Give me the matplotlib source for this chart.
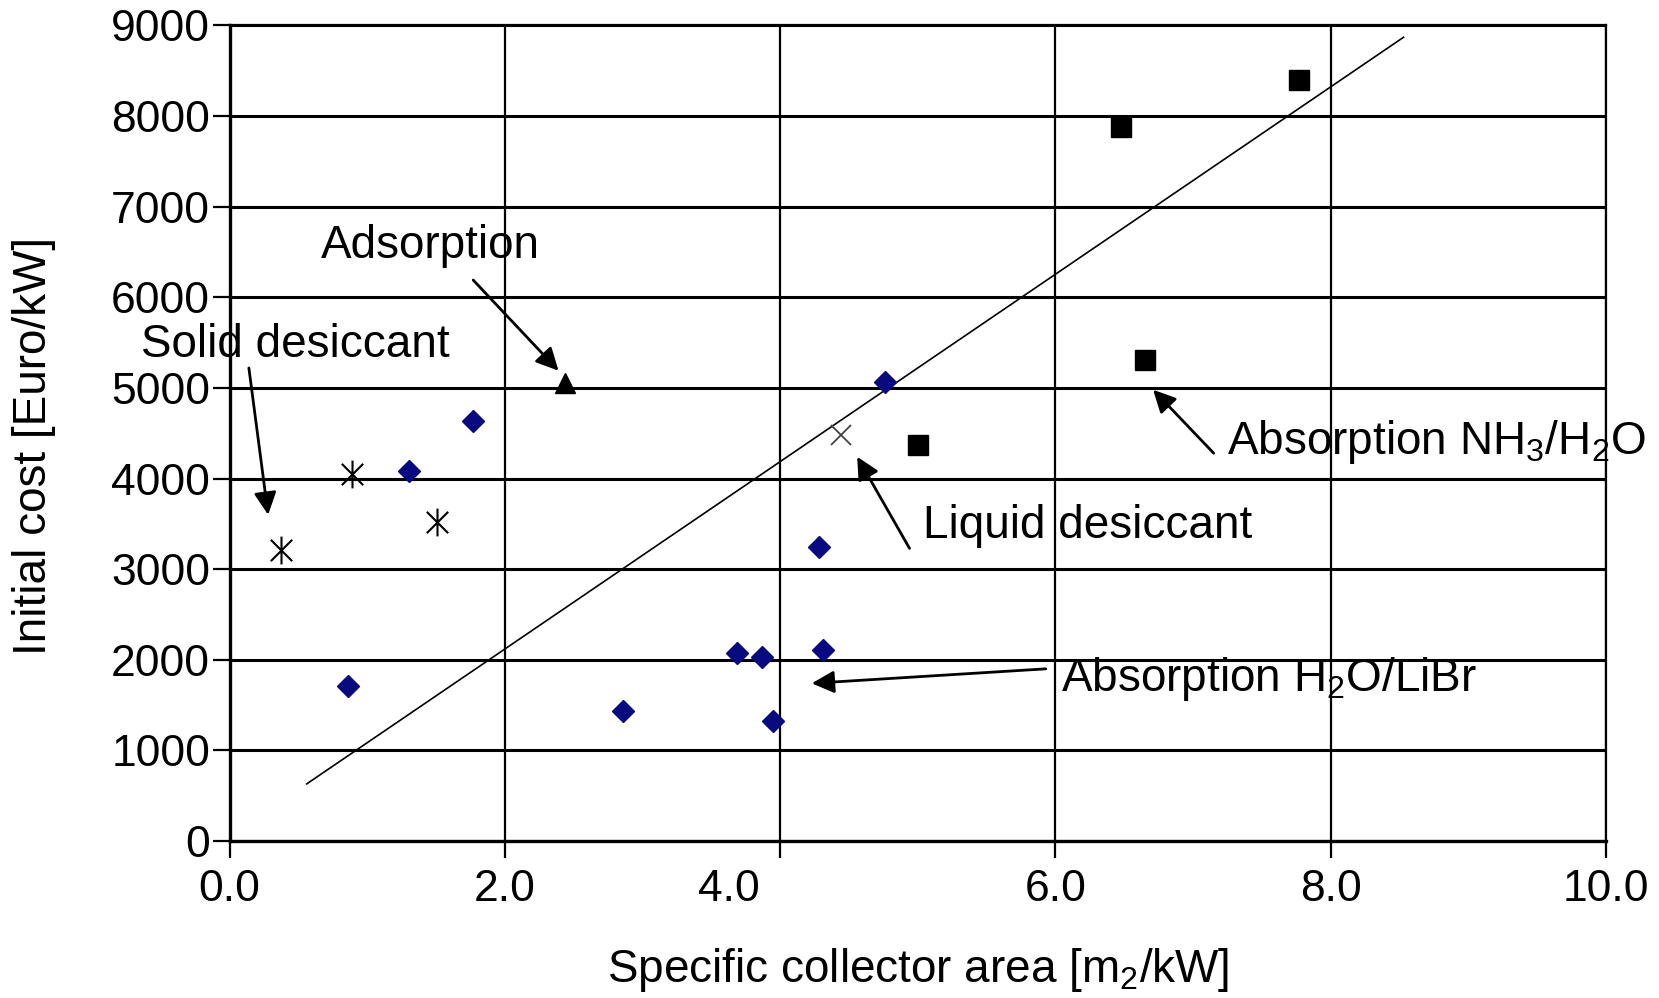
import matplotlib
matplotlib.use("Agg")
import matplotlib.pyplot as plt
from matplotlib.path import Path
from matplotlib.transforms import ScaledTranslation

plt.rcParams["font.family"] = ["Liberation Sans", "DejaVu Sans"]
plt.rcParams["mathtext.fontset"] = "custom"
plt.rcParams["mathtext.rm"] = "Liberation Sans"

# specific collector area [m2/kW] vs initial cost [Euro/kW]
libr_x = [1.77, 1.30, 0.86, 2.86, 3.69, 3.87, 3.95, 4.28, 4.31, 4.76]
libr_y = [4630, 4080, 1710, 1440, 2070, 2030, 1320, 3250, 2110, 5060]
nh3_x = [6.48, 7.77, 6.65, 5.00]
nh3_y = [7880, 8400, 5310, 4370]
solid_x = [0.37, 0.89, 1.51]
solid_y = [3210, 4050, 3520]
adsorp_x = [2.44]
adsorp_y = [5050]
liquid_x = [4.44]
liquid_y = [4480]
trend_x = [0.56, 8.53]
trend_y = [630, 8870]

xticks = [0, 2, 4, 6, 8, 10]
xtick_labels = ["0.0", "2.0", "4.0", "6.0", "8.0", "10.0"]
yticks = list(range(0, 9001, 1000))

# 6-armed asterisk: an X with a vertical bar
ast = Path([(-1, -1), (1, 1), (-1, 1), (1, -1), (0, -1.3), (0, 1.3)],
           [Path.MOVETO, Path.LINETO, Path.MOVETO, Path.LINETO, Path.MOVETO, Path.LINETO])

fig = plt.figure(figsize=(16.59, 9.98), dpi=100)
ax = fig.add_axes([0.1384, 0.1573, 0.8296, 0.8172])

ax.plot(trend_x, trend_y, color="black", lw=1.2, zorder=2)
ax.plot(libr_x, libr_y, ls="none", marker="D", ms=11, color="#0a0a80", zorder=3)
ax.plot(nh3_x, nh3_y, ls="none", marker="s", ms=14, color="black", zorder=3)
ax.plot(solid_x, solid_y, ls="none", marker=ast, ms=20, mec="black", mew=1.5, zorder=3)
ax.plot(adsorp_x, adsorp_y, ls="none", marker="^", ms=15, color="black", zorder=3)
ax.plot(liquid_x, liquid_y, ls="none", marker="x", ms=15, mec="#444444", mew=1.3, zorder=3)

ax.set_xlim(0, 10)
ax.set_ylim(0, 9000)
ax.set_xticks(xticks)
ax.set_xticklabels(xtick_labels)
ax.set_yticks(yticks)
ax.grid(axis="y", color="black", lw=2.2)
ax.grid(axis="x", color="black", lw=1.6)
ax.set_axisbelow(True)
for s in ax.spines.values():
    s.set_linewidth(1.6)
ax.spines["left"].set_linewidth(2.4)
ax.spines["bottom"].set_linewidth(2.4)
ax.tick_params(axis="both", direction="out", length=12, width=1.6, labelsize=32)
ax.tick_params(axis="x", pad=8)
ax.tick_params(axis="y", pad=2)

# the "4.0" label sits left of its gridline
lbl = ax.get_xticklabels()[2]
lbl.set_transform(lbl.get_transform() + ScaledTranslation(-0.51, 0, fig.dpi_scale_trans))

ax.set_xlabel("Specific collector area [m$_\\mathregular{2}$/kW]", fontsize=33, labelpad=26)
ax.set_ylabel("Initial cost [Euro/kW]", fontsize=33)
ax.yaxis.set_label_coords(-0.126, 0.484)

arrow = dict(arrowstyle="-|>", color="black", lw=2, mutation_scale=34, shrinkA=0, shrinkB=0)
ax.text(1.46, 6570, "Adsorption", fontsize=33, ha="center", va="center")
ax.annotate("", xy=(2.39, 5190), xytext=(1.77, 6190), arrowprops=arrow)
ax.text(0.48, 5475, "Solid desiccant", fontsize=33, ha="center", va="center")
ax.annotate("", xy=(0.28, 3600), xytext=(0.14, 5220), arrowprops=arrow)
ax.text(7.25, 4400, "Absorption NH$_\\mathregular{3}$/H$_\\mathregular{2}$O", fontsize=33,
        ha="left", va="center", clip_on=False)
ax.annotate("", xy=(6.71, 4980), xytext=(7.15, 4280), arrowprops=arrow)
ax.text(5.04, 3480, "Liquid desiccant", fontsize=33, ha="left", va="center")
ax.annotate("", xy=(4.56, 4240), xytext=(4.94, 3230), arrowprops=arrow)
ax.text(6.04, 1790, "Absorption H$_\\mathregular{2}$O/LiBr", fontsize=33, ha="left", va="center")
ax.annotate("", xy=(4.23, 1740), xytext=(5.93, 1900), arrowprops=arrow)

fig.savefig("out.png", dpi=100)
